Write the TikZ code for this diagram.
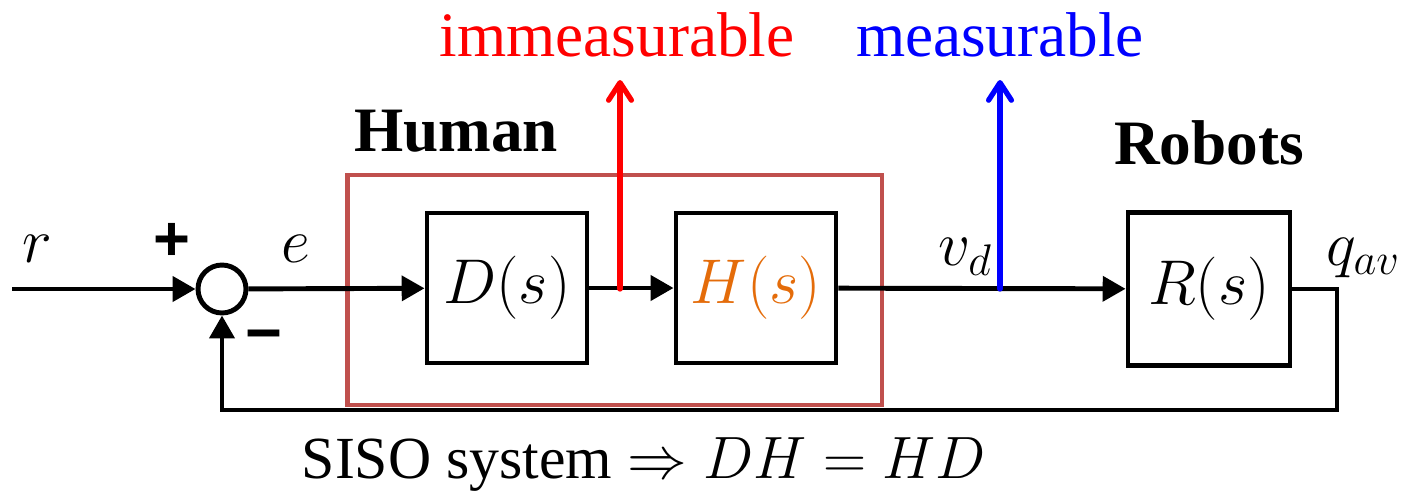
\documentclass[tikz,border=0pt]{standalone}
\usepackage{fix-cm}
\usepackage{amsmath}
\usepackage{fontspec}
\setmainfont{Liberation Serif}
\newfontfamily\signfont{Liberation Sans}
\usetikzlibrary{arrows.meta}

\definecolor{humanred}{RGB}{192,80,77}
\definecolor{horange}{RGB}{228,108,10}

\begin{document}
\begin{tikzpicture}[x=0.02cm, y=-0.02cm, line width=2.8pt, >={Triangle[length=13pt, width=14pt]},
    every node/.style={font=\fontsize{36}{40}\selectfont},
    block/.style={draw, minimum width=3.2cm, minimum height=3cm, inner sep=0pt},
    sumnode/.style={draw, circle, minimum size=0.96cm, inner sep=0pt},
    probe/.style={line width=3pt, line cap=round, -{Straight Barb[length=10pt, width=13pt, round]}}]
    \useasboundingbox (0,0) rectangle (1412,490);

    % blocks
    \node[draw=humanred, minimum width=10.7cm, minimum height=4.6cm] (human) at (614.5,290) {};
    \node[sumnode] (sum) at (222,289) {};
    \node[block] (D) at (507,288) {$D(s)$};
    \node[block] (H) at (756,288) {\color{horange}$H(s)$};
    \node[block, minimum width=3.24cm, minimum height=3.06cm] (R) at (1209,289) {$R(s)$};

    % labels
    \node (r) at (37,249) {$r$};
    \node (e) at (296,249) {$e$};
    \node (vd) at (965,257) {$v_d$};
    \node (qav) at (1363,258) {$q_{av}$};
    \node (plus) at (172,242) {\signfont\bfseries +};
    \node (minus) at (264,342) {\signfont\bfseries −};
    \node (humanlbl) at (456,131) {\bfseries Human};
    \node (robots) at (1209,143) {\bfseries Robots};
    \node[red] (imm) at (617,35) {immeasurable};
    \node[blue] (meas) at (1000,35) {measurable};
    \node[anchor=base, font=\fontsize{34}{40}\selectfont] (siso) at (644,478) {SISO system $\Rightarrow DH = HD$};

    \coordinate (in) at (12,289);
    \coordinate (tapH) at (620,289);
    \coordinate (tapR) at (1000,289);
    \coordinate (immtop) at (620,80);
    \coordinate (meastop) at (1000,80);
    \coordinate (back) at (1337,410);

    % signal path
    \draw[->] (in) -- (sum);
    \draw[->] (sum) -- (D);
    \draw[->] (D) -- (H);
    \draw[->] (H) -- (R);
    \draw[->] (R.east) -| (back) -| (sum);
    \draw[red, probe] (tapH) -- (immtop);
    \draw[blue, probe] (tapR) -- (meastop);
\end{tikzpicture}
\end{document}
